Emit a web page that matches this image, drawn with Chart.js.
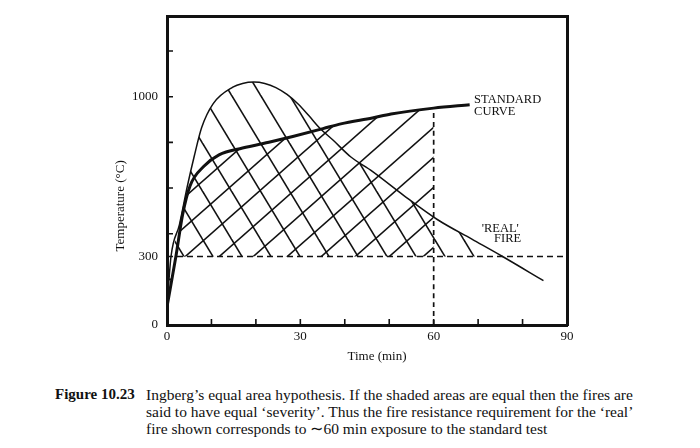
<!DOCTYPE html>
<html>
<head>
<meta charset="utf-8">
<script src="https://cdn.jsdelivr.net/npm/chart.js@4.4.1/dist/chart.umd.min.js"></script>
<style>
    html, body { margin: 0; padding: 0; background: #fff; }
    #pagina { position: relative; width: 700px; height: 448px; font-family: 'Liberation Serif', serif; color: #111; }
    #caixa { position: absolute; left: 0; top: 0; width: 700px; height: 372px; }
    .legenda { position: absolute; top: 386px; font-size: 15.5px; line-height: 17px; white-space: nowrap; }
    #legenda-rotulo { left: 55px; font-weight: bold; font-size: 15px; }
    #legenda-texto { left: 146px; }
</style>
</head>
<body>
<div id="pagina">
    <div id="caixa"><canvas id="grafico"></canvas></div>
    <div class="legenda" id="legenda-rotulo">Figure 10.23</div>
    <div class="legenda" id="legenda-texto">Ingberg’s equal area hypothesis. If the shaded areas are equal then the fires are<br>said to have equal ‘severity’. Thus the fire resistance requirement for the ‘real’<br>fire shown corresponds to ∼60 min exposure to the standard test</div>
</div>
<script>
// curva padrao (min, °C)
const tempoPadrao = [0, 2.0, 3.5, 5.2, 8.3, 11.7, 17.0, 23.4, 28.3, 35.1, 39.1, 46.2, 50.4, 60, 68.1];
const tempPadrao  = [80, 300, 482, 610, 695, 745, 775, 803, 826, 860, 881, 907, 924, 950, 965];

// incendio 'real'
const tempoReal = [0, 0.9, 2.8, 4.6, 6.1, 7.8, 10.4, 14.8, 17.0, 19.5, 22.0, 24.5, 27.0, 29.5, 32.0, 34.4, 37.4, 41.3, 46.2, 53.3, 60.9, 68.6, 75.5, 84.7];
const tempReal  = [80, 300, 440, 610, 737, 865, 970, 1042, 1058, 1064, 1058, 1040, 1010, 968, 915, 862, 809, 737, 673, 567, 461, 376, 300, 194];

const TEMP_BASE = 300;     // linha tracejada horizontal
const TEMPO_EQUIV = 60;    // linha tracejada vertical

const rotulosX = [0, 30, 60, 90];
const rotulosY = [0, 300, 1000];
const marcasX = [10, 20, 30, 40, 50, 60, 70, 80];
const marcasY = [200, 400, 600, 800, 1000, 1200];

const COR = '#111';
const FONTE = '"Liberation Serif", serif';

function pontos(xs, ys, ini = 0, fim = xs.length) {
    return xs.slice(ini, fim).map((x, i) => ({ x: x, y: ys[ini + i] }));
}

function hachura(w, h, sentido) {
    const c = document.createElement('canvas');
    c.width = w;
    c.height = h;
    const g = c.getContext('2d');
    g.strokeStyle = COR;
    g.lineWidth = 1.6;
    [-w, 0, w].forEach(dx => {
        g.beginPath();
        if (sentido === '/') {
            g.moveTo(dx - w, 2 * h);
            g.lineTo(dx + 2 * w, -h);
        } else {
            g.moveTo(dx - w, -h);
            g.lineTo(dx + 2 * w, 2 * h);
        }
        g.stroke();
    });
    return g.createPattern(c, 'repeat');
}

const fimHachuraPadrao = tempoPadrao.indexOf(TEMPO_EQUIV) + 1;
const fimHachuraReal = tempReal.lastIndexOf(TEMP_BASE) + 1;
const tempNoEquiv = tempPadrao[tempoPadrao.indexOf(TEMPO_EQUIV)];

const notas = [
    { texto: 'STANDARD', x: 69.1, y: 987 },
    { texto: 'CURVE', x: 69.1, y: 936 },
    { texto: "'REAL'", x: 70.8, y: 422 },
    { texto: 'FIRE', x: 73.6, y: 378 }
];

const extras = {
    id: 'extras',
    afterDatasetsDraw(chart) {
        const { ctx, chartArea: a } = chart;
        const sx = chart.scales.x;
        const sy = chart.scales.y;
        ctx.save();
        ctx.strokeStyle = COR;
        ctx.fillStyle = COR;
        ctx.lineWidth = 1.6;
        ctx.beginPath();
        marcasX.forEach(v => {
            const px = sx.getPixelForValue(v);
            ctx.moveTo(px, a.bottom);
            ctx.lineTo(px, a.bottom - 6);
        });
        marcasY.forEach(v => {
            const py = sy.getPixelForValue(v);
            ctx.moveTo(a.left, py);
            ctx.lineTo(a.left + 6, py);
        });
        ctx.stroke();

        ctx.font = '12.5px ' + FONTE;
        ctx.textBaseline = 'middle';
        notas.forEach(n => ctx.fillText(n.texto, sx.getPixelForValue(n.x), sy.getPixelForValue(n.y)));

        ctx.font = '13px ' + FONTE;
        ctx.textAlign = 'center';
        ctx.fillText('Time (min)', (a.left + a.right) / 2 + 10, a.bottom + 32);
        ctx.translate(a.left - 46, (a.top + a.bottom) / 2 + 35);
        ctx.rotate(-Math.PI / 2);
        ctx.fillText('Temperature (°C)', 0, 0);
        ctx.restore();
    }
};

function moldura(posicao) {
    return {
        type: 'linear',
        position: posicao,
        grid: { display: false, drawTicks: false },
        ticks: { display: false },
        border: { display: true, color: COR, width: 3 },
        afterFit: s => { if (posicao === 'top') s.height = 0; else s.width = 0; }
    };
}

Chart.defaults.font.family = FONTE;
Chart.defaults.color = COR;

const linha = { showLine: true, pointRadius: 0, borderColor: COR, cubicInterpolationMode: 'monotone' };

new Chart(document.getElementById('grafico'), {
    type: 'scatter',
    data: {
        datasets: [
            {
                ...linha,
                data: pontos(tempoPadrao, tempPadrao, 1, fimHachuraPadrao),
                borderWidth: 0,
                fill: { value: TEMP_BASE },
                backgroundColor: hachura(34, 30, '/')
            },
            {
                ...linha,
                data: pontos(tempoReal, tempReal, 1, fimHachuraReal),
                borderWidth: 0,
                fill: { value: TEMP_BASE },
                backgroundColor: hachura(29, 48, '\\')
            },
            {
                ...linha,
                data: [{ x: 0, y: TEMP_BASE }, { x: 90, y: TEMP_BASE }],
                borderWidth: 1.7,
                borderDash: [6, 4]
            },
            {
                ...linha,
                data: [{ x: TEMPO_EQUIV, y: 0 }, { x: TEMPO_EQUIV, y: tempNoEquiv }],
                borderWidth: 1.7,
                borderDash: [5, 4]
            },
            {
                ...linha,
                data: pontos(tempoReal, tempReal),
                borderWidth: 1.5
            },
            {
                ...linha,
                data: pontos(tempoPadrao, tempPadrao),
                borderWidth: 3
            }
        ]
    },
    options: {
        responsive: true,
        maintainAspectRatio: false,
        animation: false,
        layout: { padding: { left: 0, right: 133, top: 15, bottom: 0 } },
        plugins: {
            legend: { display: false },
            tooltip: { enabled: false }
        },
        scales: {
            x: {
                type: 'linear',
                min: 0,
                max: 90,
                grid: { display: false, drawTicks: false },
                border: { display: true, color: COR, width: 3 },
                afterBuildTicks: s => { s.ticks = rotulosX.map(v => ({ value: v })); },
                ticks: { autoSkip: false, maxRotation: 0, padding: 4, font: { size: 13 }, callback: v => String(v) },
                afterFit: s => { s.height = 47; }
            },
            y: {
                type: 'linear',
                min: 0,
                max: 1350,
                grid: { display: false, drawTicks: false },
                border: { display: true, color: COR, width: 3 },
                afterBuildTicks: s => { s.ticks = rotulosY.map(v => ({ value: v })); },
                ticks: { autoSkip: false, padding: 9, font: { size: 13 }, callback: v => String(v) },
                afterFit: s => { s.width = 167; }
            },
            x2: moldura('top'),
            y2: moldura('right')
        }
    },
    plugins: [extras]
});
</script>
</body>
</html>
